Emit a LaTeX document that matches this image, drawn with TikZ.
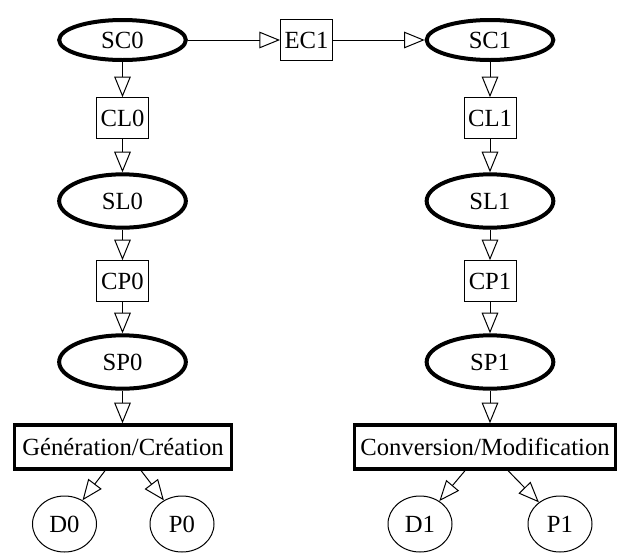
\documentclass[tikz,border=0pt]{standalone}
\usepackage{fontspec}
\setmainfont{Liberation Serif}
\usetikzlibrary{shapes.geometric,arrows.meta}
\begin{document}
\begin{tikzpicture}[x=0.75pt,y=-0.75pt,
  every node/.style={font=\fontsize{18.5}{22}\selectfont, inner sep=0pt},
  stateell/.style={ellipse, draw, line width=3pt, minimum width=95pt, minimum height=40pt},
  topell/.style={stateell, minimum height=30pt},
  opbox/.style={rectangle, draw, line width=0.75pt, minimum width=39pt, minimum height=30.5pt},
  bigbox/.style={rectangle, draw, line width=2.6pt, minimum height=33pt},
  leaf/.style={ellipse, draw, line width=0.75pt, minimum width=48pt, minimum height=42pt},
  arr/.style={line width=0.75pt, -{Triangle[open,length=15.5pt,width=12.5pt]}}
]
\useasboundingbox (0,0) rectangle (618,554);
% left column
\node[topell] (SC0) at (122.5,40) {SC0};
\node[opbox] (EC1) at (306.5,40) {EC1};
\node[topell] (SC1) at (490,40) {SC1};
\node[opbox] (CL0) at (122.5,118) {CL0};
\node[opbox] (CL1) at (490,118) {CL1};
\node[stateell] (SL0) at (122.5,201) {SL0};
\node[stateell] (SL1) at (490,201) {SL1};
\node[opbox] (CP0) at (122.5,281) {CP0};
\node[opbox] (CP1) at (490,281) {CP1};
\node[stateell] (SP0) at (122.5,362) {SP0};
\node[stateell] (SP1) at (490,362) {SP1};
\node[bigbox, minimum width=163pt] (GEN) at (123,447) {Génération/Création};
\node[bigbox, minimum width=196pt] (CONV) at (485,447) {Conversion/Modification};
\node[leaf] (D0) at (64.5,524) {D0};
\node[leaf] (P0) at (182,524) {P0};
\node[leaf] (D1) at (420,524) {D1};
\node[leaf] (P1) at (560,524) {P1};
% edges
\draw[arr] (SC0) -- (EC1);
\draw[arr] (EC1) -- (SC1);
\draw[arr] (SC0) -- (CL0);
\draw[arr] (CL0) -- (SL0);
\draw[arr] (SL0) -- (CP0);
\draw[arr] (CP0) -- (SP0);
\draw[arr] (SP0) -- (GEN.north -| SP0);
\draw[arr] (SC1) -- (CL1);
\draw[arr] (CL1) -- (SL1);
\draw[arr] (SL1) -- (CP1);
\draw[arr] (CP1) -- (SP1);
\draw[arr] (SP1) -- (CONV.north -| SP1);
\draw[arr] (GEN) -- (D0);
\draw[arr] (GEN) -- (P0);
\draw[arr] (CONV) -- (D1);
\draw[arr] (CONV) -- (P1);
\end{tikzpicture}
\end{document}
